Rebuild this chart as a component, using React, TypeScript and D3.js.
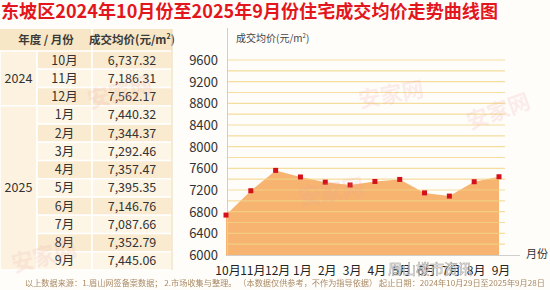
import React from "react";
import * as d3 from "d3";

const title = "东坡区2024年10月份至2025年9月份住宅成交均价走势曲线图";
const months = ["10月", "11月", "12月", "1月", "2月", "3月", "4月", "5月", "6月", "7月", "8月", "9月"];
const years = [
  { label: "2024", count: 3 },
  { label: "2025", count: 9 },
];
const prices = [6737.32, 7186.31, 7562.17, 7440.32, 7344.37, 7292.46, 7357.47, 7395.35, 7146.76, 7087.66, 7352.79, 7445.06];
const yTicks = [6000, 6400, 6800, 7200, 7600, 8000, 8400, 8800, 9200, 9600];
const gridValues = d3.range(6200, 9601, 200);
const footer = "以上数据来源：1.眉山网签备案数据；  2.市场收集与整理。 （本数据仅供参考，不作为指导依据）     起止日期：2024年10月29日至2025年9月28日";

const W = 550;
const H = 290;
const FONT = "'Noto Sans CJK SC', 'Noto Sans', sans-serif";

export default function App() {
  const x = d3.scalePoint<string>().domain(months).range([226, 499]);
  const y = d3.scaleLinear().domain([6000, 9600]).range([255, 60]);

  const data = months.map((m, i) => ({ m, v: prices[i] }));
  const area = d3
    .area<{ m: string; v: number }>()
    .x((d) => x(d.m) as number)
    .y0(y(6000))
    .y1((d) => y(d.v));

  const tTop = 29;
  const hdrH = 22;
  const rowH = 18.25;
  const c0 = 0, c1 = 37, c2 = 92, c3 = 172;
  const fmt = d3.format(",.2f");

  let acc = 0;
  const yearCells = years.map((yr) => {
    const start = acc;
    acc += yr.count;
    return { ...yr, start };
  });

  return (
    <svg
      width={W}
      height={H}
      style={{ position: "absolute", left: 0, top: 0, display: "block", background: "#fffdfa" }}
      fontFamily={FONT}
    >
      <rect x={0} y={0} width={W} height={H} fill="#fffdfa" />
      <text x={1} y={18} fontSize={18} fontWeight="bold" fill="#e3161d" textLength={497} lengthAdjust="spacingAndGlyphs">
        {title}
      </text>

      <g>
        <rect x={c0} y={tTop} width={c3 - c0} height={hdrH} fill="#f8e7c6" />
        <line x1={c2} x2={c2} y1={tTop} y2={tTop + hdrH} stroke="#fff" strokeWidth={1.5} />
        <text x={(c0 + c2) / 2} y={tTop + 15} fontSize={11.5} fontWeight="bold" textAnchor="middle" fill="#3a3a3a">
          年度 / 月份
        </text>
        <text x={(c2 + c3) / 2} y={tTop + 15} fontSize={11.5} fontWeight="bold" textAnchor="middle" fill="#3a3a3a">
          成交均价(元/m
          <tspan fontSize={7} dy={-5}>2</tspan>
          <tspan dy={5}>)</tspan>
        </text>
        {yearCells.map((yc) => {
          const y0 = tTop + hdrH + yc.start * rowH;
          const h = yc.count * rowH;
          return (
            <g key={yc.label}>
              <rect x={c0} y={y0} width={c1 - c0} height={h} fill="#fdf2df" stroke="#fff" strokeWidth={1.5} />
              <text x={(c0 + c1) / 2} y={y0 + h / 2 + 4.5} fontSize={12.5} textAnchor="middle" fill="#333">
                {yc.label}
              </text>
            </g>
          );
        })}
        {months.map((m, i) => {
          const y0 = tTop + hdrH + i * rowH;
          const dark = i % 2 === 0;
          return (
            <g key={m + i}>
              <rect x={c1} y={y0} width={c2 - c1} height={rowH} fill={dark ? "#faebd0" : "#fdf5e6"} stroke="#fff" strokeWidth={1.5} />
              <rect x={c2} y={y0} width={c3 - c2} height={rowH} fill={dark ? "#faebd0" : "#fdf5e6"} stroke="#fff" strokeWidth={1.5} />
              <text x={(c1 + c2) / 2} y={y0 + rowH / 2 + 4.5} fontSize={12.5} textAnchor="middle" fill="#333">
                {m}
              </text>
              <text x={(c2 + c3) / 2} y={y0 + rowH / 2 + 4.5} fontSize={12.5} textAnchor="middle" fill="#333">
                {fmt(prices[i])}
              </text>
            </g>
          );
        })}
        <line x1={c3} x2={c3} y1={tTop} y2={tTop + hdrH + 12 * rowH} stroke="#ead7b0" strokeWidth={1} />
      </g>

      <g>
        <text x={236} y={42} fontSize={10} fill="#444">
          成交均价(元/m
          <tspan fontSize={6} dy={-4}>2</tspan>
          <tspan dy={4}>)</tspan>
        </text>
        <path d={area(data) || ""} fill="#f6b470" />
        {gridValues.map((g) => (
          <line key={g} x1={228} x2={505} y1={y(g)} y2={y(g)} stroke="#f2d487" strokeOpacity={0.8} strokeWidth={1.2} />
        ))}
        <line x1={227.5} x2={227.5} y1={28} y2={y(6000)} stroke="#cfcfcf" strokeWidth={1} />
        <line x1={226} x2={520} y1={y(6000) + 0.5} y2={y(6000) + 0.5} stroke="#cfcfcf" strokeWidth={1} />
        {yTicks.map((t) => (
          <text key={t} x={218} y={y(t) + 5} fontSize={13} textAnchor="end" fill="#333">
            {t}
          </text>
        ))}
        {data.map((d, i) => (
          <rect key={i} x={(x(d.m) as number) - 2.5} y={y(d.v) - 2.5} width={5} height={5} fill="#d4111b" />
        ))}
        {months.map((m) => (
          <text key={m} x={(x(m) as number) + 2} y={275} fontSize={12} textAnchor="middle" fill="#222">
            {m}
          </text>
        ))}
        <text x={526} y={258} fontSize={11} fill="#333">
          月份
        </text>
      </g>

      <g fill="#e8a0a0" opacity={0.18} fontSize={22} fontWeight="bold">
        <text x={90} y={108} transform="rotate(-15 90 108)">安家网</text>
        <text x={360} y={108} transform="rotate(-10 360 108)">安家网</text>
        <text x={300} y={205} transform="rotate(-10 300 205)">安家网</text>
        <text x={470} y={130} transform="rotate(-20 470 130)">安家网</text>
        <text x={14} y={272} transform="rotate(-15 14 272)">安家网</text>
      </g>

      <text x={25} y={286} fontSize={8} fill="#a88a64" textLength={520} lengthAdjust="spacingAndGlyphs">
        {footer}
      </text>
      <text x={388} y={274} fontSize={14} fill="#fff" stroke="#888" strokeWidth={0.5} opacity={0.85}>
        眉山楼市资讯
      </text>
    </svg>
  );
}
